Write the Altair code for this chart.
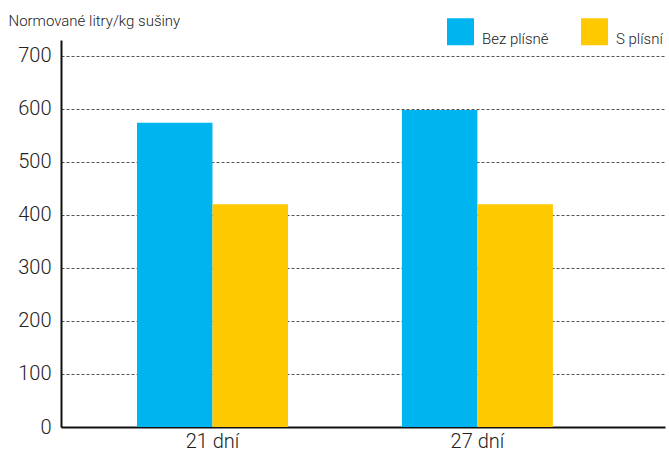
import altair as alt
import pandas as pd

categories = ["21 dní", "27 dní"]
series = ["Bez plísně", "S plísní"]
bez_plisne = [574, 598]
s_plisni = [420, 420]
y_ticks = [0, 100, 200, 300, 400, 500, 600, 700]

rows = []
for i, c in enumerate(categories):
    rows.append({"kategorie": c, "serie": series[0], "hodnota": bez_plisne[i]})
    rows.append({"kategorie": c, "serie": series[1], "hodnota": s_plisni[i]})
df = pd.DataFrame(rows)

FONT = "Roboto"
W = 300

chart = alt.Chart(df).mark_bar().encode(
    x=alt.X("kategorie:N", sort=categories,
            scale=alt.Scale(paddingInner=0.43, paddingOuter=0.355, align=0.404),
            axis=alt.Axis(title=None, labelAngle=0, labelFontSize=20, labelColor="#222",
                          labelFont=FONT, labelFontWeight=W, ticks=False,
                          domainColor="#111", domainWidth=2, labelPadding=4, grid=False)),
    xOffset=alt.XOffset("serie:N", sort=series, scale=alt.Scale(paddingInner=0, paddingOuter=0)),
    y=alt.Y("hodnota:Q", scale=alt.Scale(domain=[0, 730], nice=False),
            axis=alt.Axis(values=y_ticks, title="Normované litry/kg sušiny",
                          titleAngle=0, titleAlign="left", titleBaseline="alphabetic",
                          titleX=-53, titleY=-15, titleFontSize=15, titleFontWeight=W,
                          titleFont=FONT, titleColor="#222",
                          labelFontSize=20, labelFont=FONT, labelFontWeight=W,
                          labelColor="#222", labelPadding=10,
                          ticks=False, domainColor="#111", domainWidth=2,
                          grid=True, gridColor="#555", gridDash=[3, 2], gridWidth=1)),
    color=alt.Color("serie:N", sort=series,
                    scale=alt.Scale(domain=series, range=["#00B5EF", "#FFC900"]),
                    legend=alt.Legend(title=None, orient="none", legendX=386, legendY=-22,
                                      direction="horizontal", symbolType="square",
                                      symbolSize=729, symbolStrokeWidth=0, symbolOpacity=1,
                                      labelFontSize=15, labelFont=FONT, labelColor="#222",
                                      labelFontWeight=W,
                                      labelBaseline="top", labelOffset=8, columnPadding=32)),
).properties(
    width=604, height=387,
    padding={"left": 61, "top": 40, "right": 4, "bottom": 28},
    autosize=alt.AutoSizeParams(type="none"),
).configure_view(stroke=None)

chart.save("out.html", embed_options={"renderer": "svg", "actions": False})
